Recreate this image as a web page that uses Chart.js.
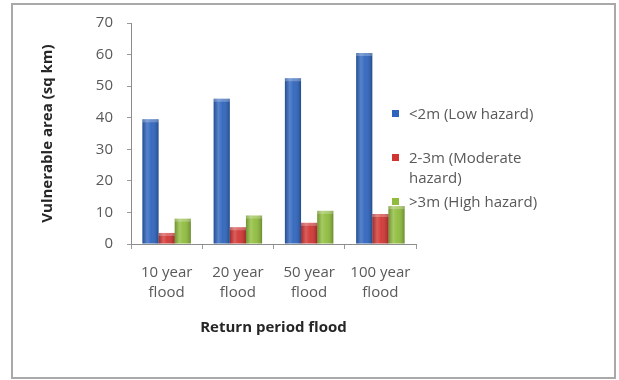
<!DOCTYPE html>
<html>
<head>
<meta charset="utf-8">
<script src="https://cdn.jsdelivr.net/npm/chart.js@4.4.1/dist/chart.umd.min.js"></script>
<style>
  html, body { margin: 0; padding: 0; background: #fff; }
  #wrap { position: relative; width: 619px; height: 380px; overflow: hidden; }
  #frame { position: absolute; left: 11px; top: 3px; width: 601px; height: 372px;
           border: 2px solid #a9a9a9; box-sizing: content-box; }
  #c { position: absolute; left: 0; top: 0; }
  #legend { position: absolute; left: 392px; top: 103px; width: 180px;
            font-family: "Open Sans", Lato, sans-serif; font-size: 15px;
            color: #595959; line-height: 20px; }
  .item { position: relative; padding-left: 17px; }
  .sw { position: absolute; left: 0; top: 7px; width: 7px; height: 7px; }
</style>
</head>
<body>
<div id="wrap">
  <div id="frame"></div>
  <canvas id="c" width="619" height="380"></canvas>
  <div id="legend"></div>
</div>
<script>
// Flood-vulnerable area by hazard depth class, per return period
const categories = [['10 year', 'flood'], ['20 year', 'flood'], ['50 year', 'flood'], ['100 year', 'flood']];
const seriesNames = ['<2m (Low hazard)', '2-3m (Moderate hazard)', '>3m (High hazard)'];
const lowHazard = [39.5, 46, 52.5, 60.5];
const moderateHazard = [3.5, 5.3, 6.7, 9.5];
const highHazard = [8, 9, 10.5, 12];
const yTicks = [0, 10, 20, 30, 40, 50, 60, 70];

const colors = ['#2e64bd', '#d13532', '#8fbc3c'];
const FONT = '"Open Sans", Lato, sans-serif';

// Cylinder-like shading laid over each bar
const shading = {
  id: 'shading',
  afterDatasetsDraw(chart) {
    const ctx = chart.ctx;
    chart.data.datasets.forEach((ds, i) => {
      const meta = chart.getDatasetMeta(i);
      meta.data.forEach(bar => {
        const l = bar.x - bar.width / 2, r = bar.x + bar.width / 2;
        const g = ctx.createLinearGradient(l, 0, r, 0);
        g.addColorStop(0, 'rgba(0,0,0,0.22)');
        g.addColorStop(0.3, 'rgba(255,255,255,0.2)');
        g.addColorStop(0.55, 'rgba(255,255,255,0.05)');
        g.addColorStop(1, 'rgba(0,0,0,0.25)');
        ctx.save();
        ctx.fillStyle = g;
        ctx.fillRect(l, bar.y, bar.width, bar.base - bar.y);
        ctx.fillStyle = 'rgba(255,255,255,0.25)';
        ctx.fillRect(l, bar.y, bar.width, 3);
        ctx.restore();
      });
    });
  }
};

new Chart(document.getElementById('c'), {
  type: 'bar',
  data: {
    labels: categories,
    datasets: [
      { label: seriesNames[0], data: lowHazard, backgroundColor: colors[0] },
      { label: seriesNames[1], data: moderateHazard, backgroundColor: colors[1] },
      { label: seriesNames[2], data: highHazard, backgroundColor: colors[2] }
    ]
  },
  options: {
    responsive: false,
    animation: false,
    devicePixelRatio: 1,
    layout: { padding: { left: 0, right: 203, top: 23, bottom: 0 } },
    datasets: { bar: { barPercentage: 1, categoryPercentage: 0.68 } },
    plugins: { legend: { display: false }, tooltip: { enabled: false } },
    scales: {
      x: {
        grid: { display: true, drawOnChartArea: false, offset: true, color: '#9a9a9a', tickLength: 5 },
        border: { color: '#8c8c8c' },
        ticks: { color: '#595959', padding: 14, font: { family: FONT, size: 15, lineHeight: 1.33 }, maxRotation: 0, autoSkip: false },
        title: { display: true, text: 'Return period flood', color: '#262626',
                 font: { family: FONT, size: 15, weight: 'bold' }, padding: { bottom: 43 } },
        afterFit(s) { s.height = 136; }
      },
      y: {
        min: 0, max: 70,
        afterBuildTicks(s) { s.ticks = yTicks.map(v => ({ value: v })); },
        grid: { display: true, drawOnChartArea: false, color: '#9a9a9a', tickLength: 4 },
        border: { color: '#8c8c8c' },
        ticks: { color: '#595959', padding: 14, font: { family: FONT, size: 15 } },
        title: { display: true, text: 'Vulnerable area (sq km)', color: '#262626',
                 font: { family: FONT, size: 15, weight: 'bold' }, padding: { top: 39 } },
        afterFit(s) { s.width = 131; }
      }
    }
  },
  plugins: [shading]
});

// Legend as page text
const legend = document.getElementById('legend');
const gaps = [0, 24, 4];
seriesNames.forEach((name, i) => {
  const item = document.createElement('div');
  item.className = 'item';
  item.style.marginTop = gaps[i] + 'px';
  const sw = document.createElement('span');
  sw.className = 'sw';
  sw.style.background = colors[i];
  item.appendChild(sw);
  const text = document.createElement('span');
  text.textContent = name;
  item.appendChild(text);
  if (i === 1) item.style.width = '140px';
  legend.appendChild(item);
});
</script>
</body>
</html>
